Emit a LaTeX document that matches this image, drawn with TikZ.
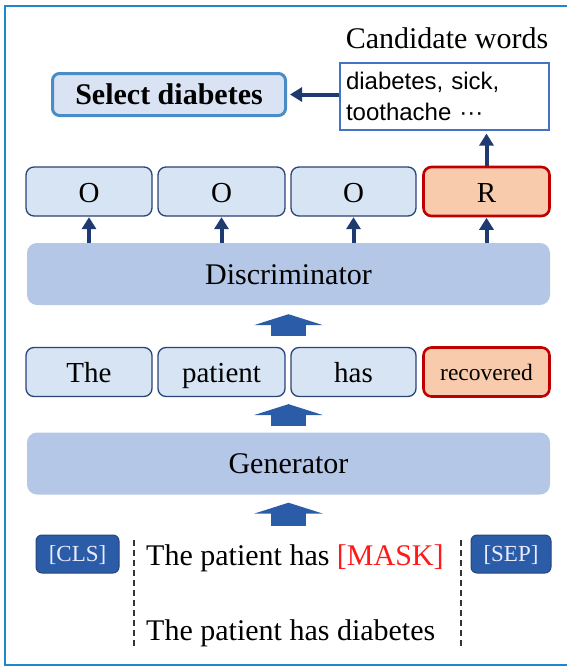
\documentclass[tikz,border=0pt]{standalone}
\usepackage{fontspec}
\setmainfont{Liberation Serif}
\newfontfamily\candfont{Liberation Sans}
\usetikzlibrary{arrows.meta}

\definecolor{framecol}{HTML}{1E88C8}
\definecolor{selborder}{HTML}{4A8CC6}
\definecolor{selfill}{HTML}{DAE3F3}
\definecolor{tokfill}{HTML}{D6E4F4}
\definecolor{tokborder}{HTML}{2A4478}
\definecolor{redfill}{HTML}{F8CBAD}
\definecolor{redborder}{HTML}{C00000}
\definecolor{layerfill}{HTML}{B4C7E7}
\definecolor{blockblue}{HTML}{2A5CA8}
\definecolor{navy}{HTML}{1F3A70}
\definecolor{candborder}{HTML}{4472C4}
\definecolor{maskred}{HTML}{FF1A1A}

\begin{document}
\begin{tikzpicture}[x=1pt,y=-1pt,
  big/.style={font=\fontsize{30}{36}\selectfont},
  tokbox/.style={draw=tokborder, line width=1.3pt, fill=tokfill, rounded corners=8pt,
    minimum height=49pt, inner sep=0pt, text height=21pt, text depth=0pt,
    font=\fontsize{29}{34}\selectfont},
  redbox/.style={tokbox, draw=redborder, line width=2.6pt, fill=redfill},
  layer/.style={fill=layerfill, rounded corners=10pt, minimum width=523pt,
    minimum height=62pt, inner sep=0pt, text height=20pt, text depth=0pt,
    font=\fontsize{30}{36}\selectfont},
  specbox/.style={draw=tokborder, line width=1pt, fill=blockblue, rounded corners=6pt,
    minimum height=38pt, inner sep=0pt, text=white!92!blue,
    text height=15pt, text depth=0pt, font=\fontsize{23}{28}\selectfont},
  navyarrow/.style={navy, line width=4pt, -{Triangle[length=12pt,width=14pt]}},
  blockarrow/.style={blockblue, line width=35pt, -{Triangle[length=11pt,width=69pt]}},
  splitline/.style={black!80, line width=1.2pt, dash pattern=on 6pt off 4pt}]

\useasboundingbox (0,0) rectangle (566,667);

% outer frame
\draw[framecol, line width=2.6pt] (5,6) rectangle (580,665);

% top row: selected word and candidate list
\node[draw=selborder, line width=3pt, fill=selfill, rounded corners=7pt,
      minimum width=233pt, minimum height=42pt, inner sep=0pt,
      font=\fontsize{30}{36}\selectfont\bfseries, text height=20pt, text depth=0pt]
  (select) at (169,94.5) {Select diabetes};
\node[draw=candborder, line width=1.1pt, fill=white, minimum width=209pt,
      minimum height=67pt, inner xsep=6pt, inner ysep=0pt, text width=197pt,
      align=left, font=\candfont\fontsize{24}{31}\selectfont]
  (cand) at (444.5,96.5) {diabetes, sick,\\toothache \textperiodcentered\textperiodcentered\textperiodcentered};
\node[big, anchor=base] (candlabel) at (447,48) {Candidate words};

% discriminator outputs
\node[tokbox, minimum width=126pt] (o1) at (89,191.5) {O};
\node[tokbox, minimum width=127pt] (o2) at (221.5,191.5) {O};
\node[tokbox, minimum width=125pt] (o3) at (353.5,191.5) {O};
\node[redbox, minimum width=126pt] (r)  at (486.5,191.5) {R};

% discriminator
\node[layer] (disc) at (288.5,274) {Discriminator};

% generated tokens
\node[tokbox, minimum width=126pt] (w1) at (89,372) {The};
\node[tokbox, minimum width=127pt] (w2) at (221.5,372) {patient};
\node[tokbox, minimum width=125pt] (w3) at (353.5,372) {has};
\node[redbox, minimum width=126pt, font=\fontsize{23.5}{28}\selectfont, text height=17pt] (w4) at (486.5,372) {recovered};

% generator
\node[layer] (gen) at (288.5,463.5) {Generator};

% input sequence
\node[specbox, minimum width=83pt] (cls) at (77.5,554) {[CLS]};
\node[specbox, minimum width=80pt] (sep) at (511,554) {[SEP]};
\node[big, anchor=base west, inner sep=0pt] (masked) at (146,565)
  {The patient has \textcolor{maskred}{[MASK]}};
\node[big, anchor=base west, inner sep=0pt] (orig) at (146,640)
  {The patient has diabetes};
\coordinate (dl1) at (134,540);
\coordinate (dl2) at (134,646);
\coordinate (dr1) at (461,540);
\coordinate (dr2) at (461,646);
\draw[splitline] (dl1) -- (dl2);
\draw[splitline] (dr1) -- (dr2);
\coordinate (inputtop) at (288.5,526);

% thin arrows
\draw[navyarrow] (disc.north -| o1) -- ([yshift=-0.5pt]o1.south);
\draw[navyarrow] (disc.north -| o2) -- ([yshift=-0.5pt]o2.south);
\draw[navyarrow] (disc.north -| o3) -- ([yshift=-0.5pt]o3.south);
\draw[navyarrow] (disc.north -| r) -- ([yshift=-0.5pt]r.south);
\draw[navyarrow] (r.north) -- ([yshift=-3pt]cand.south -| r);
\draw[navyarrow] (cand.west |- select.east) -- ([xshift=3pt]select.east);

% block arrows between stages
\draw[blockarrow, shorten <=11pt, shorten >=9pt] (disc.south |- w2.north) -- (disc.south);
\draw[blockarrow, shorten <=6pt, shorten >=7pt] (gen.north) -- (gen.north |- w2.south);
\draw[blockarrow, shorten >=8pt] (inputtop) -- (gen.south);

\end{tikzpicture}
\end{document}
